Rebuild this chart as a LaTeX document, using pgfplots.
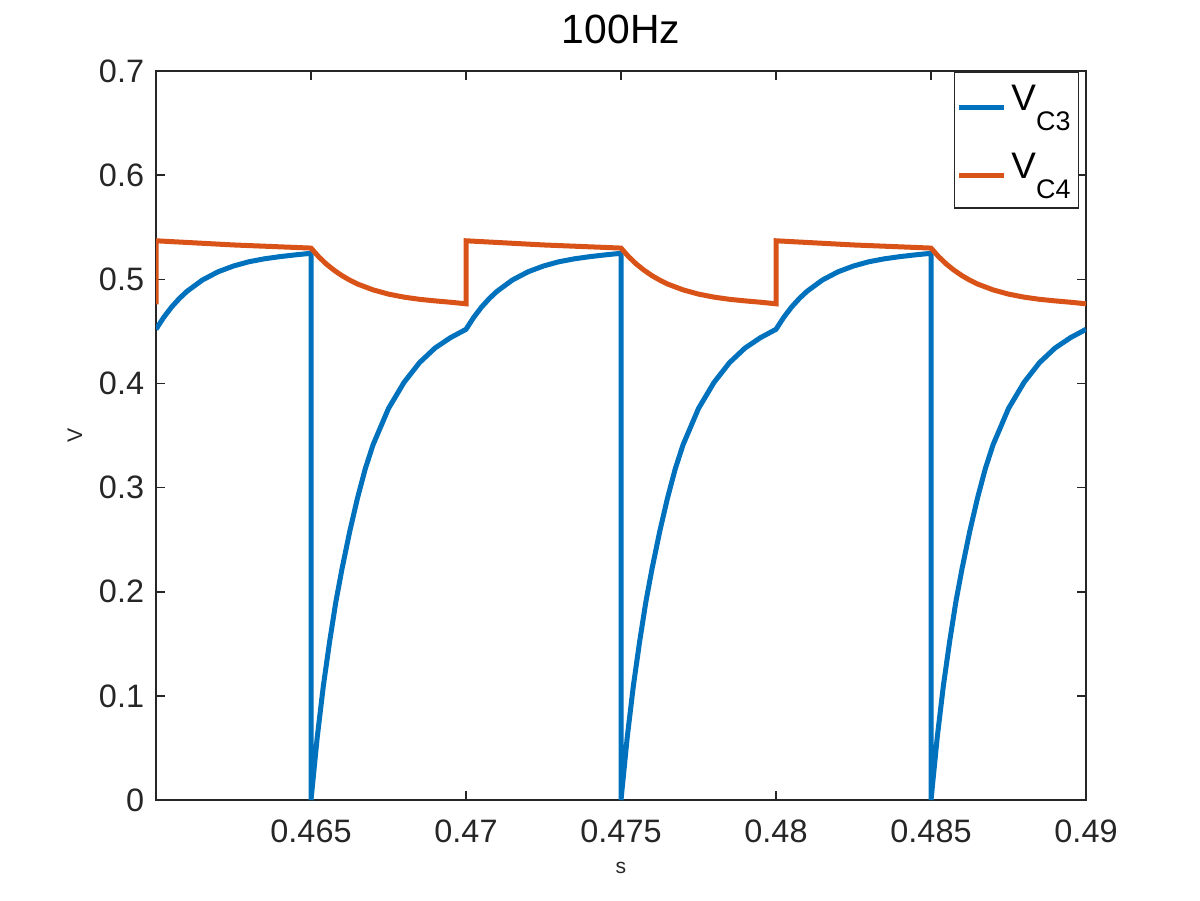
\documentclass[border=0pt]{standalone}
\usepackage{pgfplots}
\pgfplotsset{compat=1.18}
\usepackage{fontspec}
\setmainfont{Liberation Sans}

\definecolor{mblue}{rgb}{0,0.447,0.741}
\definecolor{morange}{rgb}{0.85,0.325,0.098}
\definecolor{axgray}{rgb}{0.15,0.15,0.15}

\newcommand{\sub}[1]{\raisebox{-7.6pt}{\fontsize{10.2}{12}\selectfont #1}}

\begin{document}
\begin{tikzpicture}
\begin{axis}[
    at={(0,0)}, anchor=south west,
    scale only axis,
    width=12.4cm, height=9.72cm,
    xmin=0.46, xmax=0.49,
    ymin=0, ymax=0.7,
    xtick={0.465,0.47,0.475,0.48,0.485,0.49},
    xticklabels={0.465,0.47,0.475,0.48,0.485,0.49},
    ytick={0,0.1,0.2,0.3,0.4,0.5,0.6,0.7},
    yticklabels={0,0.1,0.2,0.3,0.4,0.5,0.6,0.7},
    tick align=inside,
    major tick length=3.4pt,
    axis line style={axgray, line width=0.6pt},
    every tick/.style={axgray, line width=0.6pt},
    ticklabel style={font=\fontsize{12.3}{14}\selectfont, text=axgray},
    xticklabel style={yshift=-4pt},
    yticklabel style={xshift=-1pt},
    title={100Hz},
    title style={font=\fontsize{15.5}{18}\selectfont, yshift=0.7pt},
    xlabel={s},
    ylabel={V},
    label style={font=\fontsize{8}{9}\selectfont, text=axgray},
    xlabel style={yshift=-0.5pt},
    ylabel style={yshift=-0.5pt},
    legend style={at={(0.9925,0.9986)}, anchor=north east, draw=axgray,
        line width=0.5pt, font=\fontsize{14}{16}\selectfont,
        row sep=5.4pt, inner xsep=1pt, inner ysep=2.75pt,
        nodes={text depth=6.55pt}},
    legend cell align=left,
    legend image code/.code={\draw[#1] (0cm,-0.4pt) -- (0.59cm,-0.4pt);},
    every axis plot/.append style={line width=1.9pt},
]
\addplot[mblue] coordinates {
(0.46000,0.452) (0.46025,0.4635) (0.46050,0.4733) (0.46075,0.4815) (0.46100,0.4885)
(0.46150,0.4994) (0.46200,0.5072) (0.46250,0.5128) (0.46300,0.5169) (0.46350,0.5197)
(0.46400,0.5218) (0.46450,0.5235) (0.46500,0.5250) (0.46500,0.0)
(0.46520,0.060) (0.46540,0.110) (0.46560,0.152) (0.46580,0.190) (0.46600,0.222)
(0.46625,0.258) (0.46650,0.290) (0.46675,0.318) (0.46700,0.341) (0.46750,0.376)
(0.46800,0.401) (0.46850,0.420) (0.46900,0.434) (0.46950,0.444)
(0.47000,0.452) (0.47025,0.4635) (0.47050,0.4733) (0.47075,0.4815) (0.47100,0.4885)
(0.47150,0.4994) (0.47200,0.5072) (0.47250,0.5128) (0.47300,0.5169) (0.47350,0.5197)
(0.47400,0.5218) (0.47450,0.5235) (0.47500,0.5250) (0.47500,0.0)
(0.47520,0.060) (0.47540,0.110) (0.47560,0.152) (0.47580,0.190) (0.47600,0.222)
(0.47625,0.258) (0.47650,0.290) (0.47675,0.318) (0.47700,0.341) (0.47750,0.376)
(0.47800,0.401) (0.47850,0.420) (0.47900,0.434) (0.47950,0.444)
(0.48000,0.452) (0.48025,0.4635) (0.48050,0.4733) (0.48075,0.4815) (0.48100,0.4885)
(0.48150,0.4994) (0.48200,0.5072) (0.48250,0.5128) (0.48300,0.5169) (0.48350,0.5197)
(0.48400,0.5218) (0.48450,0.5235) (0.48500,0.5250) (0.48500,0.0)
(0.48520,0.060) (0.48540,0.110) (0.48560,0.152) (0.48580,0.190) (0.48600,0.222)
(0.48625,0.258) (0.48650,0.290) (0.48675,0.318) (0.48700,0.341) (0.48750,0.376)
(0.48800,0.401) (0.48850,0.420) (0.48900,0.434) (0.48950,0.444) (0.49000,0.452)
};
\addlegendentry{V\sub{C3}}
\addplot[morange] coordinates {
(0.46000,0.476) (0.46000,0.537) (0.46250,0.5330) (0.46500,0.530)
(0.46525,0.5216) (0.46550,0.5145) (0.46575,0.5086) (0.46600,0.5035) (0.46625,0.4992)
(0.46650,0.4955) (0.46700,0.4899) (0.46750,0.4858) (0.46800,0.4829) (0.46850,0.4808)
(0.46900,0.4793) (0.46950,0.4780) (0.47000,0.4765)
(0.47000,0.537) (0.47250,0.5330) (0.47500,0.530)
(0.47525,0.5216) (0.47550,0.5145) (0.47575,0.5086) (0.47600,0.5035) (0.47625,0.4992)
(0.47650,0.4955) (0.47700,0.4899) (0.47750,0.4858) (0.47800,0.4829) (0.47850,0.4808)
(0.47900,0.4793) (0.47950,0.4780) (0.48000,0.4765)
(0.48000,0.537) (0.48250,0.5330) (0.48500,0.530)
(0.48525,0.5216) (0.48550,0.5145) (0.48575,0.5086) (0.48600,0.5035) (0.48625,0.4992)
(0.48650,0.4955) (0.48700,0.4899) (0.48750,0.4858) (0.48800,0.4829) (0.48850,0.4808)
(0.48900,0.4793) (0.48950,0.4780) (0.49000,0.4765)
};
\addlegendentry{V\sub{C4}}
\end{axis}
\useasboundingbox (-2.08cm,-1.333cm) rectangle (13.92cm,10.667cm);
\end{tikzpicture}
\end{document}
